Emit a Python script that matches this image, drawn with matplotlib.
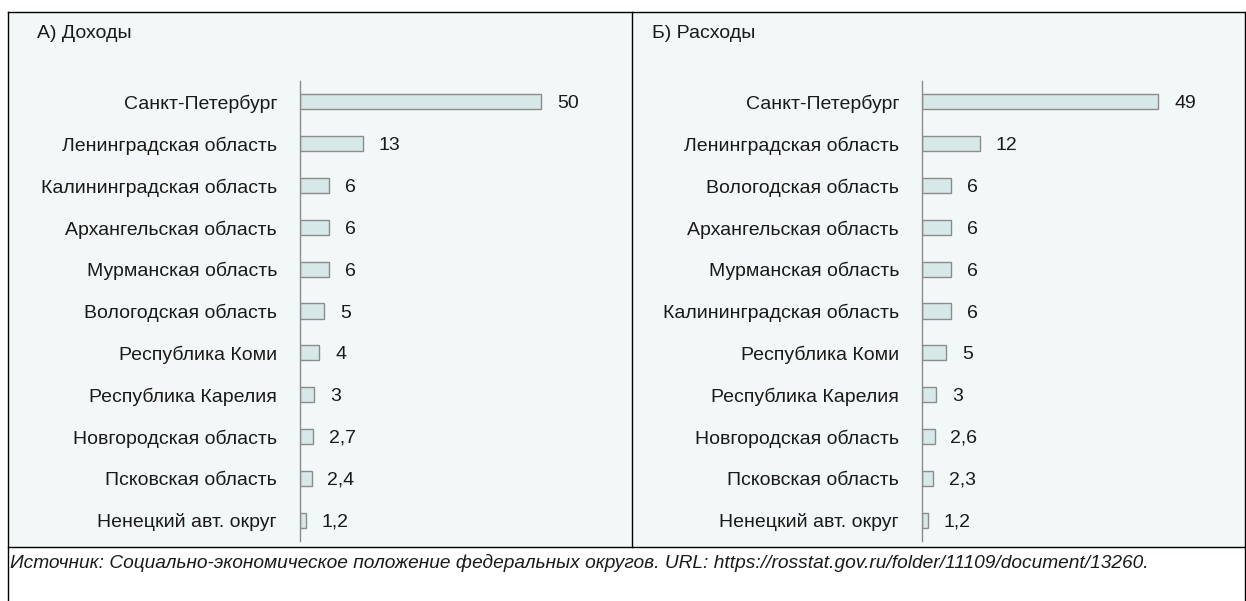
import matplotlib.pyplot as plt
from matplotlib.patches import Rectangle
from matplotlib.lines import Line2D

plt.rcParams['font.family'] = ['Liberation Sans Narrow', 'Liberation Sans', 'DejaVu Sans']

income_regions = ["Санкт-Петербург", "Ленинградская область", "Калининградская область",
                  "Архангельская область", "Мурманская область", "Вологодская область",
                  "Республика Коми", "Республика Карелия", "Новгородская область",
                  "Псковская область", "Ненецкий авт. округ"]
income_values = [50, 13, 6, 6, 6, 5, 4, 3, 2.7, 2.4, 1.2]

expense_regions = ["Санкт-Петербург", "Ленинградская область", "Вологодская область",
                   "Архангельская область", "Мурманская область", "Калининградская область",
                   "Республика Коми", "Республика Карелия", "Новгородская область",
                   "Псковская область", "Ненецкий авт. округ"]
expense_values = [49, 12, 6, 6, 6, 6, 5, 3, 2.6, 2.3, 1.2]

titles = ["А) Доходы", "Б) Расходы"]
source = ("Источник: Социально-экономическое положение федеральных округов. "
          "URL: https://rosstat.gov.ru/folder/11109/document/13260.")

W, H = 1246, 601
bg = '#f2f7f7'
bar_fill = '#d6e8e8'
bar_edge = '#8c8c8c'

fig = plt.figure(figsize=(W / 100, H / 100), dpi=100)
fig.patch.set_facecolor('white')


def px(x, y):
    return x / W, 1 - y / H


# panel background and frame lines
x0, y0 = px(8, 12)
x1, y1 = px(1246, 547)
fig.patches.append(Rectangle((x0, y1), x1 - x0, y0 - y1, transform=fig.transFigure,
                             facecolor=bg, edgecolor='none', zorder=-5))
for (a, b), (c, d) in [((8, 12), (1246, 12)), ((8, 12), (8, 601)),
                       ((8, 547), (1246, 547)), ((632, 12), (632, 547)),
                       ((1245, 12), (1245, 601))]:
    p1, p2 = px(a, b), px(c, d)
    fig.lines.append(Line2D([p1[0], p2[0]], [p1[1], p2[1]], transform=fig.transFigure,
                            color='black', lw=1.0, zorder=5))

panels = [(income_regions, income_values, 300, 37),
          (expense_regions, expense_values, 922, 652)]

for (regions, values, axis_x, title_x), title in zip(panels, titles):
    left, top = px(axis_x, 81)
    _, bottom = px(axis_x, 541)
    width = 320 / W
    ax = fig.add_axes([left, bottom, width, top - bottom], zorder=2)
    ax.set_facecolor('none')
    ypos = list(range(len(regions)))
    ax.barh(ypos, values, height=0.36, color=bar_fill, edgecolor=bar_edge, linewidth=1.0)
    ax.set_xlim(0, 320 / 4.82)
    ax.set_ylim(len(regions) - 0.5, -0.5)
    for y, v in zip(ypos, values):
        label = f"{v:g}".replace('.', ',')
        ax.text(v + 3.3, y, label, va='center_baseline', ha='left', fontsize=14,
                color='#1a1a1a')
    ax.set_yticks(ypos)
    ax.set_yticklabels(regions, fontsize=14, color='#1a1a1a')
    ax.tick_params(axis='y', length=0, pad=16.5)
    ax.set_xticks([])
    for s in ['top', 'right', 'bottom']:
        ax.spines[s].set_visible(False)
    ax.spines['left'].set_color('#8c8c8c')
    ax.spines['left'].set_linewidth(1.0)

    tx, ty = px(title_x, 33)
    fig.text(tx, ty, title, fontsize=14, va='center', ha='left', color='#1a1a1a')

sx, sy = px(10, 563)
fig.text(sx, sy, source, fontsize=13.8, style='italic', va='center', ha='left', color='#1a1a1a')

fig.savefig('out.png', dpi=100, facecolor=fig.get_facecolor())
